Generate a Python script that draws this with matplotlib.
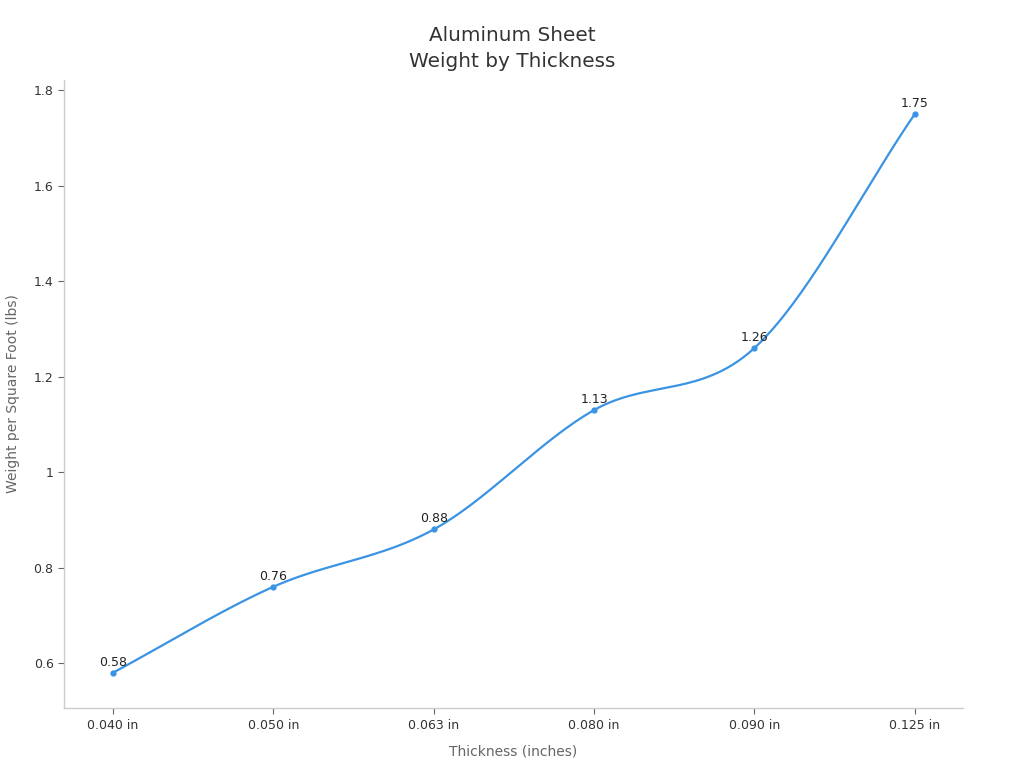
import matplotlib
matplotlib.use("Agg")
import matplotlib.pyplot as plt
import numpy as np

categories = ["0.040 in", "0.050 in", "0.063 in", "0.080 in", "0.090 in", "0.125 in"]
weights = [0.58, 0.76, 0.88, 1.13, 1.26, 1.75]
y_ticks = [0.6, 0.8, 1.0, 1.2, 1.4, 1.6, 1.8]
y_tick_labels = ["0.6", "0.8", "1", "1.2", "1.4", "1.6", "1.8"]

LINE = "#3a93e3"

def catmull_rom(xs, ys, n=60):
    xs = np.asarray(xs, float); ys = np.asarray(ys, float)
    px = np.concatenate([[2*xs[0]-xs[1]], xs, [2*xs[-1]-xs[-2]]])
    py = np.concatenate([[2*ys[0]-ys[1]], ys, [2*ys[-1]-ys[-2]]])
    ox, oy = [], []
    for i in range(1, len(px)-2):
        t = np.linspace(0, 1, n)
        for P, out in ((px, ox), (py, oy)):
            p0, p1, p2, p3 = P[i-1], P[i], P[i+1], P[i+2]
            out.extend(0.5*((2*p1) + (-p0+p2)*t + (2*p0-5*p1+4*p2-p3)*t**2 + (-p0+3*p1-3*p2+p3)*t**3))
    return np.array(ox), np.array(oy)

fig = plt.figure(figsize=(10.24, 7.68), dpi=100)
ax = fig.add_axes([0.0625, 0.078, 0.8779, 0.8178])

x = np.arange(len(categories))
sx, sy = catmull_rom(x, weights)
ax.plot(sx, sy, color=LINE, lw=1.6, solid_capstyle="round")
ax.plot(x, weights, "o", color=LINE, ms=3.5)
for xi, w in zip(x, weights):
    ax.annotate(f"{w:g}", (xi, w), xytext=(0, 3), textcoords="offset points",
                ha="center", va="bottom", fontsize=9, color="#222222")

ax.set_xlim(-0.305, 5.3)
ax.set_ylim(0.506, 1.821)
ax.set_xticks(x)
ax.set_xticklabels(categories)
ax.set_yticks(y_ticks)
ax.set_yticklabels(y_tick_labels)
ax.tick_params(axis="both", labelsize=9, length=4, width=0.8, colors="#666666", labelcolor="#333333")
for s in ["top", "right"]:
    ax.spines[s].set_visible(False)
for s in ["left", "bottom"]:
    ax.spines[s].set_color("#cccccc")
    ax.spines[s].set_linewidth(1)

ax.set_xlabel("Thickness (inches)", fontsize=10, color="#666666", labelpad=9)
ax.set_ylabel("Weight per Square Foot (lbs)", fontsize=10, color="#666666", labelpad=10)
fig.suptitle("Aluminum Sheet\nWeight by Thickness", fontsize=14.4, color="#333333",
             y=0.966, linespacing=1.45)

fig.savefig("out.png", dpi=100)
